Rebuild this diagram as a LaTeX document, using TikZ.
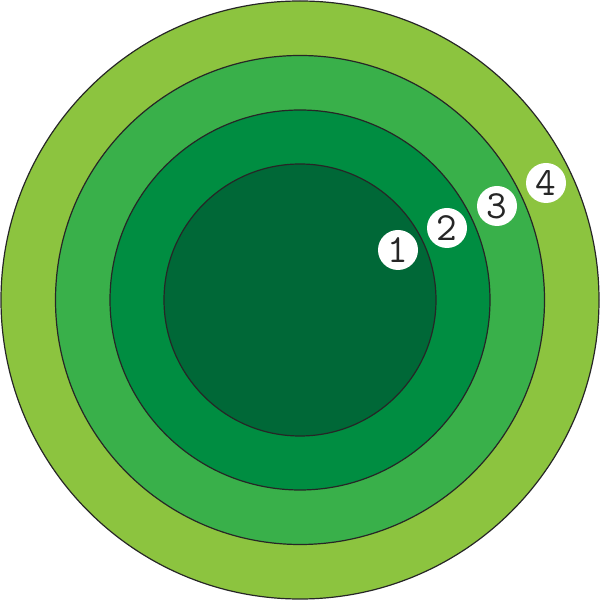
\documentclass[tikz,border=0pt]{standalone}
\definecolor{ringA}{HTML}{8CC43F}
\definecolor{ringB}{HTML}{39B04A}
\definecolor{ringC}{HTML}{008D41}
\definecolor{ringD}{HTML}{006837}
\begin{document}
\begin{tikzpicture}[x=1pt,y=1pt,
  ring/.style={draw=black!85,line width=1.2pt},
  badge/.style={circle,fill=white,minimum size=40pt,inner sep=0pt,font=\ttfamily\fontsize{40}{40}\selectfont,text=black!85}]
\useasboundingbox (0,0) rectangle (600,600);
\node[ring,circle,fill=ringA,minimum size=598pt,inner sep=0pt] (r4) at (300,300) {};
\node[ring,circle,fill=ringB,minimum size=489pt,inner sep=0pt] (r3) at (300,300) {};
\node[ring,circle,fill=ringC,minimum size=380pt,inner sep=0pt] (r2) at (300,300) {};
\node[ring,circle,fill=ringD,minimum size=272pt,inner sep=0pt] (r1) at (300,300) {};
\fill[white] (398,350) circle (20);
\fill[white] (447,372) circle (20);
\fill[white] (497,394) circle (20);
\fill[white] (546,417) circle (20);
\node[font=\ttfamily\fontsize{40}{40}\selectfont,text=black!85] (b1) at (398,350) {1};
\node[font=\ttfamily\fontsize{40}{40}\selectfont,text=black!85] (b2) at (447,372) {2};
\node[font=\ttfamily\fontsize{40}{40}\selectfont,text=black!85] (b3) at (497,394) {3};
\node[font=\ttfamily\fontsize{40}{40}\selectfont,text=black!85] (b4) at (546,417) {4};
\end{tikzpicture}
\end{document}
